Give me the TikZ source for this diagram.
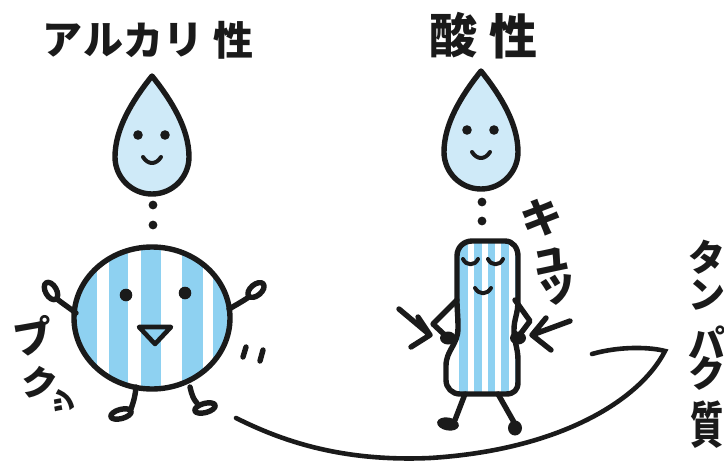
\documentclass[tikz,border=0pt]{standalone}
\usepackage{fontspec}
\newfontfamily\jp{Noto Sans CJK JP}
\definecolor{ink}{HTML}{1A1A1A}
\definecolor{dropblue}{HTML}{CFEAF8}
\definecolor{stripeblue}{HTML}{8ED1F1}
\tikzset{
  outline/.style={draw=ink, line width=5.4pt, line cap=round, line join=round},
  thin ink/.style={draw=ink, line width=4pt, line cap=round, line join=round},
  lbl/.style={font=\jp\bfseries, text=ink, inner sep=0pt},
  drop/.pic={
    \path[outline, fill=dropblue] (0,-81) .. controls (-20,-56) and (-37,-28) .. (-37,0)
      .. controls (-37,20.4) and (-20.4,37) .. (0,37)
      .. controls (20.4,37) and (37,20.4) .. (37,0)
      .. controls (37,-28) and (20,-56) .. cycle;
    \fill[ink] (-14,-22) circle (4.8);
    \fill[ink] (13,-22) circle (4.8);
    \draw[thin ink] (-9,0) .. controls (-4,8) and (4,8) .. (9,0);
  }
}
\begin{document}
\begin{tikzpicture}[x=1pt,y=-1pt]
\useasboundingbox (0,0) rectangle (724,461);

% --- titles ---
\foreach \c/\x in {ア/62,ル/103,カ/143,リ/183,性/233}
  \node[lbl, font=\jp\bfseries\fontsize{40}{40}\selectfont] (t\x) at (\x,40) {\c};
\node[lbl, font=\jp\bfseries\fontsize{48}{48}\selectfont] (acid1) at (453,35) {酸};
\node[lbl, font=\jp\bfseries\fontsize{48}{48}\selectfont] (acid2) at (513,36) {性};

% --- water drops and dotted links ---
\pic at (152,157) {drop};
\pic at (481,152) {drop};
\fill[ink] (153,205) circle (4.4) (153,225) circle (4.4);
\fill[ink] (482,202) circle (4.4) (482,221) circle (4.4);

% --- round striped character ---
\begin{scope}
  \clip (152,318) ellipse [x radius=78, y radius=71];
  \fill[white] (70,240) rectangle (235,395);
  \foreach \a/\b in {60/97,109/128,141/161,182/203,213/240}
    \fill[stripeblue] (\a,240) rectangle (\b,395);
\end{scope}
\draw[outline] (152,318) ellipse [x radius=78, y radius=71];
\fill[ink] (126,295) circle (6.3) (185,293) circle (6.3);
\draw[outline, line width=4.6pt, fill=stripeblue] (139,327) -- (171,327) -- (155,344) -- cycle;
% arms and hands
\draw[outline] (76,313) .. controls (68,307) and (62,303) .. (57,299);
\draw[outline, rotate around={-60:(51,291)}] (51,291) ellipse [x radius=9.5, y radius=5.5];
\draw[outline] (229,309) .. controls (236,305) and (243,301) .. (249,297);
\draw[outline, rotate around={40:(256,290)}] (256,290) ellipse [x radius=9.5, y radius=5.5];
% legs and feet
\draw[outline] (136,387) .. controls (135,398) and (133,403) .. (131,409);
\draw[outline, fill=white, rotate around={15:(121,414)}] (121,414) ellipse [x radius=10.5, y radius=4.6];
\draw[outline] (190,387) .. controls (192,396) and (194,400) .. (197,403);
\draw[outline, fill=white, rotate around={15:(205,408)}] (205,408) ellipse [x radius=10.5, y radius=4.6];
% puff marks
\draw[outline] (246,347) -- (243,357);
\draw[outline] (263,350) -- (260,361);

% --- slim striped character ---
\def\bodypath{(488,241) -- (505,241) .. controls (513,241) and (518,248) .. (518,256)
  -- (518,300) .. controls (518,315) and (514,318) .. (514,330)
  .. controls (514,342) and (518,348) .. (518,360) -- (518,382)
  .. controls (518,390) and (514,394) .. (506,394) -- (460,394)
  .. controls (452,394) and (446,388) .. (446,380) -- (446,366)
  .. controls (446,350) and (458,345) .. (458,328)
  .. controls (458,315) and (457,310) .. (457,300) -- (457,256)
  .. controls (457,247) and (464,241) .. (472,241) -- cycle}
\begin{scope}
  \clip \bodypath;
  \fill[white] (440,235) rectangle (525,400);
  \foreach \a/\b in {459/468,474/482,488/495,501/509,515/524}
    \fill[stripeblue] (\a,235) rectangle (\b,400);
\end{scope}
\draw[outline] \bodypath;
% face
\draw[thin ink] (463,259) .. controls (466,266) and (475,266) .. (478,259);
\draw[thin ink] (488,259) .. controls (491,266) and (500,266) .. (503,259);
\draw[thin ink] (475,288) .. controls (479,295) and (487,295) .. (491,288);
% arms on hips
\draw[outline] (457,300) -- (433,324) -- (448,338);
\fill[ink] (448,338) ellipse [x radius=8, y radius=6.5];
\draw[outline] (515,300) -- (530,321) -- (518,337);
\fill[ink] (518,338) ellipse [x radius=8, y radius=6.5];
% legs and feet
\draw[outline] (465,394) -- (455,420);
\fill[ink, rotate around={-10:(448,424)}] (448,424) ellipse [x radius=11, y radius=6.5];
\draw[outline] (498,394) -- (515,424);
\fill[ink] (515,428) ellipse [x radius=7, y radius=7.5];
% squeeze arrows
\draw[outline] (399,309) -- (430,335) (418,317) -- (430,335) -- (411,347);
\draw[outline] (570,321) -- (532,335) (546,318) -- (532,335) -- (551,350);

% --- sound words ---
\node[lbl, font=\jp\bfseries\fontsize{40}{40}\selectfont, rotate=10] (pu) at (33,336) {プ};
\node[lbl, font=\jp\bfseries\fontsize{36}{36}\selectfont] (kutsu) at (40,383)
  {\rotatebox[origin=c]{-10}{ク}\rlap{\hspace{-9pt}\smash{\raisebox{-13.2pt}{%
    \rotatebox[origin=c]{80}{\fontsize{30}{30}\selectfont ッ}}}}};
\node[lbl, font=\jp\bfseries\fontsize{42}{42}\selectfont, rotate=12, anchor=north,
  align=center] (kyu) at (538,199) {キ\\[-3pt]ュ\\[-12pt]ッ};

% --- protein label ---
\foreach \c/\y in {タ/257,ン/295,パ/342,ク/373}
  \node[lbl, font=\jp\bfseries\fontsize{37}{37}\selectfont] (p\y) at (707,\y) {\c};
\node[lbl, font=\jp\bfseries\fontsize{37}{37}\selectfont] (p425) at (707,425) {\scalebox{0.9}[1.35]{質}};

% --- sweeping link ---
\coordinate (hook) at (592,354);
\coordinate (tipc) at (665,351);
\coordinate (tail) at (236,418);
\draw[ink, line width=4.6pt, line cap=round, line join=miter]
  (hook) .. controls (620,346) and (650,347) .. (tipc)
  .. controls (640,400) and (560,450) .. (430,458)
  .. controls (340,462) and (280,440) .. (tail);
\end{tikzpicture}
\end{document}
